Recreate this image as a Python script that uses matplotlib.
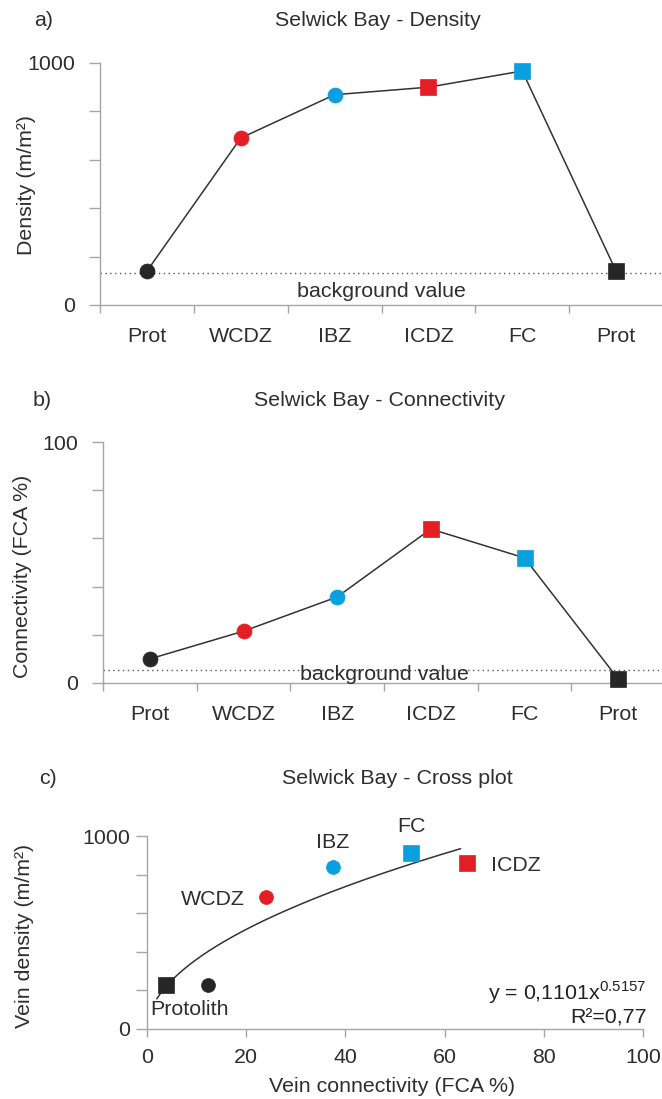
import matplotlib
matplotlib.use("Agg")
import matplotlib.pyplot as plt
import numpy as np

plt.rcParams['font.family'] = ['Liberation Sans', 'DejaVu Sans']
plt.rcParams['mathtext.fontset'] = 'custom'
plt.rcParams['mathtext.rm'] = 'Liberation Sans'
plt.rcParams['font.size'] = 15.4

# zones along the traverse
zones = ['Prot', 'WCDZ', 'IBZ', 'ICDZ', 'FC', 'Prot']
zone_markers = ['o', 'o', 'o', 's', 's', 's']
density = [140, 690, 869, 900, 967, 140]
density_bg = 133
connectivity = [10, 21.5, 35.7, 63.9, 51.9, 1.7]
connectivity_bg = 5.5

# cross plot points
cross_names = ['Protolith', 'Protolith', 'WCDZ', 'IBZ', 'FC', 'ICDZ']
cross_markers = ['s', 'o', 'o', 'o', 's', 's']
cross_conn = [3.8, 12.2, 23.9, 37.5, 53.3, 64.5]
cross_dens = [229, 229, 686, 841, 913, 862]
fit_a = 0.1101   # km/km2 -> *1000 for m/m2
fit_b = 0.5157
fit_range = (2, 63.2)

BLACK = '#262626'
RED = '#e31e25'
BLUE = '#0aa0e0'
zone_colors = [BLACK, RED, BLUE, RED, BLUE, BLACK]
cross_colors = [BLACK, BLACK, RED, BLUE, BLUE, RED]
AX = '#a6a6a6'
TXT = '#2e2e2e'

W, H = 662, 1099
fig = plt.figure(figsize=(W / 100, H / 100), dpi=100)


def box(l, t, r, b):
    return [l / W, 1 - b / H, (r - l) / W, (b - t) / H]


def style(ax):
    for s in ['top', 'right']:
        ax.spines[s].set_visible(False)
    for s in ['left', 'bottom']:
        ax.spines[s].set_color(AX)
        ax.spines[s].set_linewidth(1.0)
    ax.tick_params(which='both', color=AX, width=1.0, labelcolor=TXT)


def profile(ax, vals, bg, ymax, bg_y):
    x = np.arange(len(vals))
    ax.plot(x, vals, color='#333333', lw=1.1, zorder=2)
    for xi, v, m, c in zip(x, vals, zone_markers, zone_colors):
        ax.plot(xi, v, marker=m, color=c, ms=10.8 if m == 'o' else 11.2,
                mec=c, mew=0.5, ls='none', zorder=3, clip_on=False)
    ax.axhline(bg, color='#555555', lw=1.0, ls=(0, (1, 2.5)), zorder=1)
    ax.text(2.5, bg_y, 'background value', ha='center', va='baseline', color=TXT)
    ax.set_xlim(-0.5, 5.5)
    ax.set_ylim(0, ymax)
    ax.set_xticks(x, zones)
    ax.set_xticks(np.arange(-0.5, 5.0, 1.0), minor=True)
    ax.set_yticks([0, ymax])
    ax.set_yticks(np.linspace(0, ymax, 6)[1:-1], minor=True)
    style(ax)
    ax.tick_params(axis='x', which='major', length=0, pad=16)
    ax.tick_params(axis='x', which='minor', length=6)
    ax.tick_params(axis='y', which='both', length=8, pad=10)


# a) density
ax1 = fig.add_axes(box(100, 63, 663, 305))
profile(ax1, density, density_bg, 1000, 34)
fig.text(378 / W, 1 - 20 / H, 'Selwick Bay - Density', ha='center', va='center', color=TXT)
fig.text(44 / W, 1 - 20 / H, 'a)', ha='center', va='center', color=TXT)
fig.text(27 / W, 1 - 185 / H, 'Density (m/m²)', rotation=90,
         ha='center', va='center', color=TXT)

# b) connectivity
ax2 = fig.add_axes(box(103, 442, 665, 683))
profile(ax2, connectivity, connectivity_bg, 100, 1.4)
fig.text(380 / W, 1 - 400 / H, 'Selwick Bay - Connectivity', ha='center', va='center', color=TXT)
fig.text(42 / W, 1 - 400 / H, 'b)', ha='center', va='center', color=TXT)
fig.text(23 / W, 1 - 576 / H, 'Connectivity (FCA %)', rotation=90,
         ha='center', va='center', color=TXT)

# c) cross plot
ax3 = fig.add_axes(box(147, 836, 643, 1029))
xf = np.linspace(fit_range[0], fit_range[1], 200)
ax3.plot(xf, 1000 * fit_a * xf ** fit_b, color='#333333', lw=1.1, zorder=2)
for xv, yv, m, c in zip(cross_conn, cross_dens, cross_markers, cross_colors):
    ax3.plot(xv, yv, marker=m, color=c, ms=10.0 if m == 'o' else 11.0,
             mec=c, mew=0.5, ls='none', zorder=3, clip_on=False)
ax3.text(37.5, 936, 'IBZ', ha='center', va='baseline', color=TXT)
ax3.text(53.4, 1022, 'FC', ha='center', va='baseline', color=TXT)
ax3.text(69.4, 819, 'ICDZ', ha='left', va='baseline', color=TXT)
ax3.text(19.8, 643, 'WCDZ', ha='right', va='baseline', color=TXT)
ax3.text(0.75, 74, 'Protolith', ha='left', va='baseline', color=TXT)
ax3.text(100.7, 152, 'y = 0,1101x$^{\\mathrm{0.5157}}$', ha='right', va='baseline',
         color='#222222')
ax3.text(100.7, 27, 'R²=0,77', ha='right', va='baseline', color='#222222')
ax3.set_xlim(0, 100)
ax3.set_ylim(0, 1000)
ax3.set_xticks([0, 20, 40, 60, 80, 100])
ax3.set_yticks([0, 1000])
ax3.set_yticks([200, 400, 600, 800], minor=True)
style(ax3)
ax3.tick_params(axis='x', length=6, pad=8)
ax3.tick_params(axis='y', which='both', length=8, pad=4)
fig.text(397 / W, 1 - 778 / H, 'Selwick Bay - Cross plot', ha='center', va='center', color=TXT)
fig.text(48 / W, 1 - 778 / H, 'c)', ha='center', va='center', color=TXT)
fig.text(25 / W, 1 - 936 / H, 'Vein density (m/m²)', rotation=90,
         ha='center', va='center', color=TXT)
fig.text(392 / W, 1 - 1087 / H, 'Vein connectivity (FCA %)', ha='center', va='center', color=TXT)

fig.savefig('out.png', dpi=100)
